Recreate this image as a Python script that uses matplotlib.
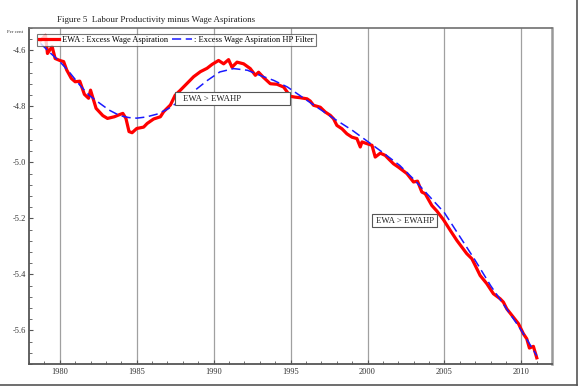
import matplotlib
matplotlib.use("Agg")
import matplotlib.pyplot as plt
from matplotlib.patches import Rectangle
from matplotlib.lines import Line2D
from matplotlib.ticker import MultipleLocator

plt.rcParams["font.family"] = ["Liberation Serif", "DejaVu Serif"]

# EWA : excess wage aspiration
ewa_year = [1978.75, 1979.07, 1979.2, 1979.5, 1979.7, 1980.0, 1980.25, 1980.45, 1980.75, 1981.0,
            1981.3, 1981.6, 1981.87, 1982.0, 1982.36, 1982.8, 1983.1, 1983.55, 1983.9, 1984.1,
            1984.3, 1984.5, 1984.7, 1985.0, 1985.45, 1985.68, 1986.1, 1986.54, 1986.75, 1987.19,
            1987.5, 1987.84, 1988.27, 1988.7, 1989.14, 1989.57, 1989.9, 1990.32, 1990.65, 1990.97,
            1991.19, 1991.52, 1991.95, 1992.38, 1992.71, 1992.92, 1993.23, 1993.68, 1994.12, 1994.55,
            1994.8, 1994.98, 1995.3, 1995.63, 1996.07, 1996.28, 1996.49, 1996.93, 1997.25, 1997.58,
            1997.79, 1998.01, 1998.34, 1998.66, 1998.99, 1999.31, 1999.53, 1999.64, 1999.96, 2000.29,
            2000.5, 2000.83, 2001.15, 2001.36, 2001.69, 2002.01, 2002.56, 2002.99, 2003.25, 2003.53,
            2003.75, 2004.18, 2004.51, 2004.94, 2005.38, 2005.81, 2006.45, 2006.78, 2007.0, 2007.32,
            2007.75, 2008.18, 2008.62, 2008.83, 2009.05, 2009.48, 2009.81, 2010.13, 2010.35, 2010.52,
            2010.78, 2011.0]
ewa = [-4.565, -4.546, -4.611, -4.586, -4.629, -4.636, -4.640, -4.670, -4.700, -4.712,
       -4.710, -4.757, -4.771, -4.742, -4.807, -4.833, -4.843, -4.837, -4.829, -4.825,
       -4.843, -4.890, -4.894, -4.879, -4.874, -4.861, -4.845, -4.837, -4.819, -4.795,
       -4.760, -4.742, -4.718, -4.694, -4.676, -4.664, -4.650, -4.636, -4.648, -4.633,
       -4.660, -4.642, -4.648, -4.665, -4.689, -4.678, -4.696, -4.719, -4.721, -4.731,
       -4.750, -4.764, -4.767, -4.769, -4.773, -4.781, -4.796, -4.803, -4.820, -4.832,
       -4.844, -4.868, -4.880, -4.898, -4.910, -4.915, -4.945, -4.927, -4.933, -4.939,
       -4.981, -4.967, -4.975, -4.987, -5.005, -5.017, -5.040, -5.070, -5.067, -5.106,
       -5.112, -5.154, -5.174, -5.205, -5.243, -5.279, -5.326, -5.344, -5.368, -5.404,
       -5.433, -5.469, -5.487, -5.499, -5.523, -5.553, -5.576, -5.612, -5.630, -5.663,
       -5.657, -5.698]

# HP filter trend
hp_year = [1978.75, 1979.3, 1980.0, 1980.6, 1981.3, 1981.9, 1982.6, 1983.2, 1983.9, 1984.5,
           1985.0, 1985.6, 1986.3, 1987.0, 1987.6, 1988.5, 1989.6, 1990.4, 1991.3, 1992.2,
           1993.0, 1993.9, 1994.8, 1995.6, 1996.5, 1997.8, 1999.0, 2000.0, 2001.0, 2002.1,
           2003.0, 2004.0, 2005.0, 2006.0, 2007.0, 2008.0, 2009.0, 2010.0, 2011.0]
hp = [-4.575, -4.605, -4.640, -4.676, -4.724, -4.760, -4.789, -4.813, -4.833, -4.840,
      -4.842, -4.838, -4.828, -4.810, -4.788, -4.755, -4.707, -4.677, -4.665, -4.671,
      -4.689, -4.707, -4.731, -4.761, -4.795, -4.843, -4.885, -4.925, -4.965, -5.011,
      -5.060, -5.120, -5.180, -5.265, -5.350, -5.440, -5.520, -5.600, -5.690]

year_ticks = [1980, 1985, 1990, 1995, 2000, 2005, 2010]
val_ticks = [-4.6, -4.8, -5.0, -5.2, -5.4, -5.6]

fig = plt.figure(figsize=(5.8, 3.86), dpi=100)
ax = fig.add_axes([0.05, 0.057, 0.902, 0.8705])

for yr in year_ticks:
    ax.axvline(yr, color="#a0a0a0", lw=0.9, zorder=0)

ax.plot(hp_year, hp, color="#1a1aff", lw=1.1, dashes=(6, 3), zorder=3,
        label=": Excess Wage Aspiration HP Filter")
ax.plot(ewa_year, ewa, color="#ff0000", lw=2.3, zorder=2,
        label="EWA : Excess Wage Aspiration")

ax.set_xlim(1978, 2012)
ax.set_ylim(-5.72, -4.52)
ax.set_xticks(year_ticks)
ax.set_yticks(val_ticks)
ax.set_yticklabels(["%.1f" % v for v in val_ticks])
ax.xaxis.set_minor_locator(MultipleLocator(1))
ax.yaxis.set_minor_locator(MultipleLocator(0.04))
ax.tick_params(which="both", direction="in", labelsize=6, colors="#555555",
               labelcolor="#333333")
ax.tick_params(which="major", length=3, width=0.8)
ax.tick_params(which="minor", length=2, width=0.6)
ax.tick_params(axis="x", pad=3)
ax.tick_params(axis="y", pad=2)

for s in ["left", "bottom"]:
    ax.spines[s].set_color("#555555")
    ax.spines[s].set_linewidth(1.3)
ax.spines["top"].set_color("#707070")
ax.spines["top"].set_linewidth(1.2)
ax.spines["right"].set_color("#999999")
ax.spines["right"].set_linewidth(1.8)

h, l = ax.get_legend_handles_labels()
leg = ax.legend(h[::-1], l[::-1], loc="upper left", bbox_to_anchor=(0.016, 0.983),
                ncol=2, fontsize=6, frameon=True, fancybox=False, borderpad=0.25,
                handlelength=2.4, handletextpad=0.25, columnspacing=0.5,
                borderaxespad=0)
leg.get_frame().set_edgecolor("#555555")
leg.get_frame().set_linewidth(0.8)

# annotation boxes
ax.add_patch(Rectangle((0.279, 0.771), 0.22, 0.039, transform=ax.transAxes,
                       facecolor="white", edgecolor="#555555", lw=0.8, zorder=4))
ax.text(0.295, 0.790, "EWA > EWAHP", transform=ax.transAxes, fontsize=6.3,
        va="center", ha="left", color="#222222", zorder=5)
ax.add_patch(Rectangle((0.656, 0.408), 0.124, 0.038, transform=ax.transAxes,
                       facecolor="white", edgecolor="#555555", lw=0.8, zorder=4))
ax.text(0.718, 0.427, "EWA > EWAHP", transform=ax.transAxes, fontsize=6.3,
        va="center", ha="center", color="#222222", zorder=5)

fig.text(0.269, 1 - 20 / 386, "Figure 5  Labour Productivity minus Wage Aspirations",
         fontsize=6.5, ha="center", va="center", color="#222222")
fig.text(0.012, 1 - 32 / 386, "Per cent", fontsize=3.5, ha="left", va="center",
         color="#333333")

# outer frame lines (right and bottom)
fig.add_artist(Line2D([0, 577 / 580], [1 / 386, 1 / 386], transform=fig.transFigure,
                      color="#555555", lw=1.2))
fig.add_artist(Line2D([577 / 580, 577 / 580], [1 / 386, 1], transform=fig.transFigure,
                      color="#555555", lw=1.2))

fig.savefig("out.png", dpi=100)
